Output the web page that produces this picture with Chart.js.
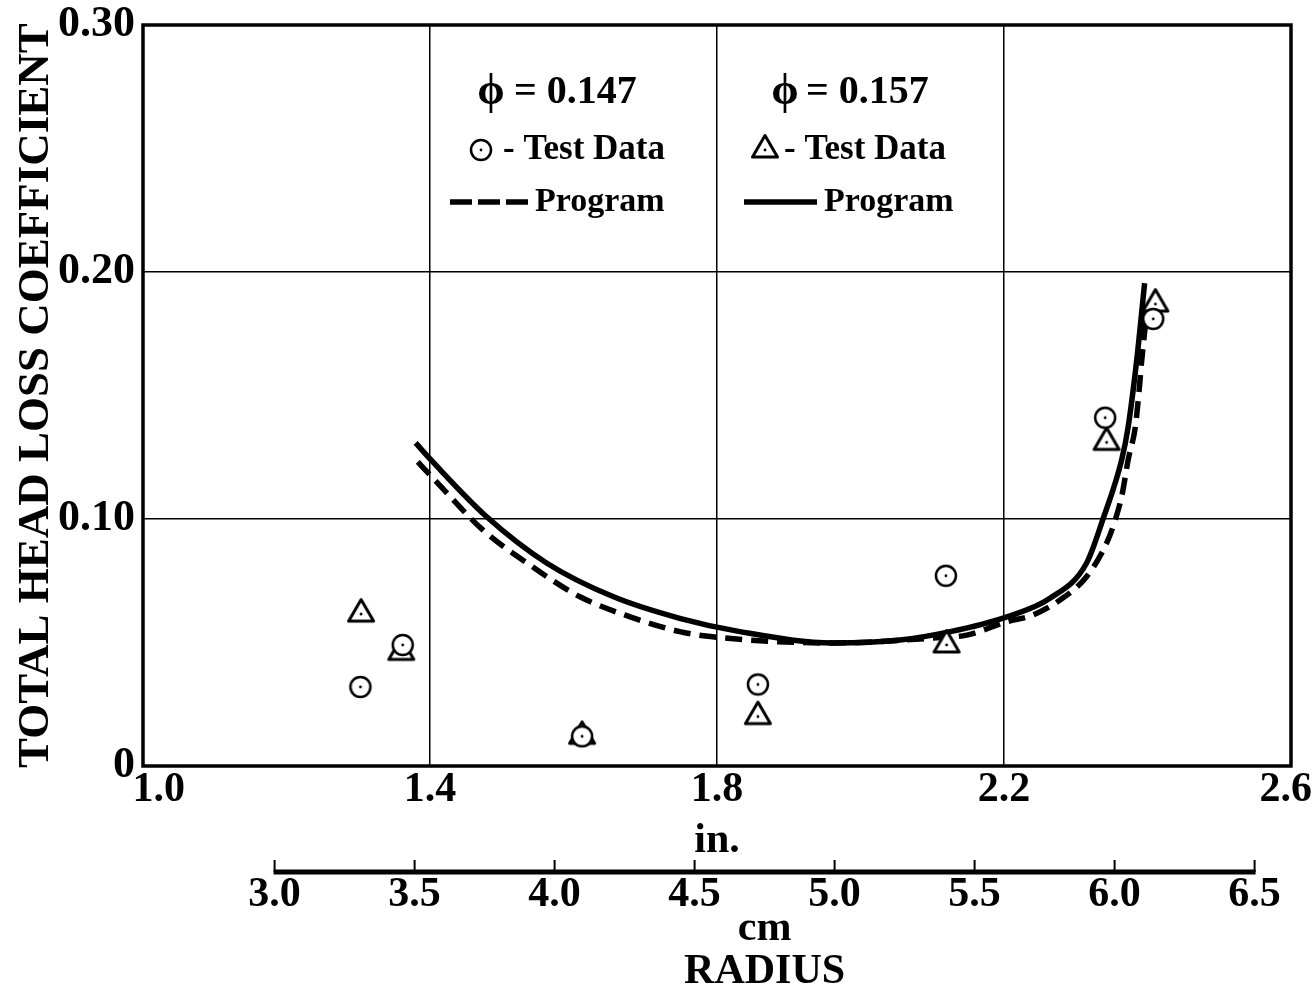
<!DOCTYPE html>
<html>
<head>
<meta charset="utf-8">
<script src="https://cdn.jsdelivr.net/npm/chart.js@4.4.0/dist/chart.umd.min.js"></script>
<style>
  html, body { margin: 0; padding: 0; background: #fff; }
  #wrap { width: 1315px; height: 984px; }
</style>
</head>
<body>
<div id="wrap"><canvas id="chart"></canvas></div>
<script>
// test data (radius in inches)
const circleRadius = [1.303, 1.362, 1.612, 1.857, 2.119, 2.341, 2.408];
const circleLoss = [0.032, 0.049, 0.012, 0.033, 0.077, 0.141, 0.181];
const triangleRadius = [1.304, 1.360, 1.612, 1.857, 2.120, 2.343, 2.411];
const triangleLoss = [0.0615, 0.046, 0.012, 0.020, 0.049, 0.131, 0.187];

// program curve, phi = 0.147 (dashed)
const dashedRadius = [1.383, 1.404, 1.474, 1.539, 1.609, 1.679, 1.748, 1.794, 1.962, 2.101, 2.148, 2.204, 2.240, 2.278, 2.315, 2.343, 2.355, 2.365, 2.373, 2.383, 2.388, 2.392, 2.399];
const dashedLoss = [0.1231, 0.1166, 0.0955, 0.0814, 0.0685, 0.0604, 0.0544, 0.0523, 0.0498, 0.0518, 0.0530, 0.0584, 0.0611, 0.0672, 0.0766, 0.0902, 0.0996, 0.1105, 0.1239, 0.1372, 0.1510, 0.1644, 0.1838];

// program curve, phi = 0.157 (solid)
const solidRadius = [1.380, 1.404, 1.479, 1.563, 1.655, 1.748, 1.832, 1.962, 2.055, 2.125, 2.204, 2.264, 2.315, 2.338, 2.364, 2.373, 2.385, 2.396];
const solidLoss = [0.1308, 0.1231, 0.1009, 0.0821, 0.0686, 0.0598, 0.0544, 0.0498, 0.0510, 0.0544, 0.0604, 0.0679, 0.0821, 0.1000, 0.1239, 0.1372, 0.1644, 0.1955];

// axes
const yTicks = [0, 0.1, 0.2, 0.3];
const yTickLabels = ['0', '0.10', '0.20', '0.30'];
const inchTicks = [1.0, 1.4, 1.8, 2.2, 2.6];
const cmTicks = [3.0, 3.5, 4.0, 4.5, 5.0, 5.5, 6.0, 6.5];

const SERIF = "'Liberation Serif', 'Times New Roman', serif";
Chart.defaults.font.family = SERIF;
Chart.defaults.color = '#000';

const toPoints = (xs, ys) => xs.map((x, i) => ({ x, y: ys[i] }));

// marker images: open circle / open triangle with a centre dot
function makeMarker(kind) {
  const c = document.createElement('canvas');
  c.width = 36;
  c.height = 36;
  const g = c.getContext('2d');
  g.strokeStyle = '#000';
  g.fillStyle = '#fff';
  g.lineJoin = 'round';
  g.beginPath();
  if (kind === 'circle') {
    g.lineWidth = 2.5;
    g.arc(18, 18, 10, 0, Math.PI * 2);
  } else {
    g.lineWidth = 3;
    g.moveTo(18, 3.5);
    g.lineTo(30.5, 25);
    g.lineTo(5.5, 25);
    g.closePath();
  }
  g.fill();
  g.stroke();
  g.fillStyle = '#000';
  g.beginPath();
  g.arc(18, 18, 1.4, 0, Math.PI * 2);
  g.fill();
  return c;
}
const circleImg = makeMarker('circle');
const triangleImg = makeMarker('triangle');

const tickFont = size => ({ family: SERIF, size, weight: 'bold', lineHeight: 1 });

// first/last inch labels sit a little inside the frame, like the original
const inchLabel = (v, i, ticks) => {
  const t = v.toFixed(1);
  if (i === 0) return '   ' + t;
  if (i === ticks.length - 1) return t + ' ';
  return t;
};

// frame, second (cm) axis, captions and the in-plot key
const decorations = {
  id: 'decorations',
  beforeDatasetsDraw(chart) {
    const { ctx, chartArea: a } = chart;
    ctx.save();
    ctx.strokeStyle = '#000';
    ctx.lineWidth = 3.5;
    ctx.strokeRect(a.left, a.top, a.right - a.left, a.bottom - a.top);
    ctx.restore();
  },
  afterDraw(chart) {
    const { ctx, chartArea: a } = chart;
    const s = chart.scales.xcm;
    const y0 = s.top + 10;
    const x0 = s.getPixelForValue(cmTicks[0]);
    const x1 = s.getPixelForValue(cmTicks[cmTicks.length - 1]);
    ctx.save();
    ctx.strokeStyle = '#000';
    ctx.fillStyle = '#000';
    ctx.lineWidth = 5;
    ctx.beginPath();
    ctx.moveTo(x0 - 1, y0);
    ctx.lineTo(x1 + 1, y0);
    ctx.stroke();
    ctx.lineWidth = 2;
    cmTicks.forEach(v => {
      const px = s.getPixelForValue(v);
      ctx.beginPath();
      ctx.moveTo(px, y0);
      ctx.lineTo(px, y0 - 12);
      ctx.stroke();
    });

    const mid = (x0 + x1) / 2;
    ctx.textAlign = 'center';
    ctx.textBaseline = 'alphabetic';
    ctx.font = `bold 42px ${SERIF}`;
    ctx.fillText('cm', mid, s.top + 78);
    ctx.fillText('RADIUS', mid, s.top + 121);

    // key
    const L = a.left, T = a.top;
    ctx.textBaseline = 'middle';
    ctx.textAlign = 'center';
    ctx.font = `bold 44px ${SERIF}`;
    ctx.fillText('\u03D5', L + 348, T + 68);
    ctx.fillText('\u03D5', L + 642, T + 68);
    ctx.textAlign = 'left';
    ctx.font = `bold 40px ${SERIF}`;
    ctx.fillText('= 0.147', L + 371, T + 68);
    ctx.fillText('= 0.157', L + 663, T + 68);

    ctx.drawImage(circleImg, L + 338 - 18, T + 125 - 18);
    ctx.drawImage(triangleImg, L + 622 - 18, T + 125 - 18);
    ctx.font = `bold 35px ${SERIF}`;
    ctx.fillText('- Test Data', L + 360, T + 125);
    ctx.fillText('- Test Data', L + 641, T + 125);

    ctx.lineWidth = 5.5;
    ctx.setLineDash([22, 6]);
    ctx.beginPath();
    ctx.moveTo(L + 307, T + 177);
    ctx.lineTo(L + 387, T + 177);
    ctx.stroke();
    ctx.setLineDash([]);
    ctx.beginPath();
    ctx.moveTo(L + 601, T + 177);
    ctx.lineTo(L + 674, T + 177);
    ctx.stroke();
    ctx.font = `bold 34px ${SERIF}`;
    ctx.fillText('Program', L + 392, T + 177);
    ctx.fillText('Program', L + 681, T + 177);
    ctx.restore();
  }
};

const curveStyle = {
  showLine: true,
  borderColor: '#000',
  borderWidth: 5.5,
  pointRadius: 0,
  fill: false,
  cubicInterpolationMode: 'monotone'
};

new Chart(document.getElementById('chart'), {
  type: 'scatter',
  data: {
    datasets: [
      {
        label: '\u03D5 = 0.147 Test Data',
        data: toPoints(circleRadius, circleLoss),
        pointStyle: circleImg,
        pointRadius: 11
      },
      {
        label: '\u03D5 = 0.157 Test Data',
        data: toPoints(triangleRadius, triangleLoss),
        pointStyle: triangleImg,
        pointRadius: 11
      },
      {
        label: '\u03D5 = 0.147 Program',
        data: toPoints(dashedRadius, dashedLoss),
        borderDash: [17, 9],
        ...curveStyle
      },
      {
        label: '\u03D5 = 0.157 Program',
        data: toPoints(solidRadius, solidLoss),
        ...curveStyle
      }
    ]
  },
  options: {
    responsive: true,
    maintainAspectRatio: false,
    animation: false,
    layout: { padding: { top: 25, right: 24, bottom: 0, left: 0 } },
    plugins: {
      legend: { display: false },
      tooltip: { enabled: false }
    },
    scales: {
      x: {
        type: 'linear',
        position: 'bottom',
        weight: 0,
        min: 1.0,
        max: 2.6,
        afterBuildTicks: s => { s.ticks = inchTicks.map(v => ({ value: v })); },
        afterFit: s => { s.height = 96; s.paddingLeft = 0; s.paddingRight = 0; },
        grid: { color: '#000', lineWidth: 1.5, drawTicks: false },
        border: { display: false },
        ticks: { font: tickFont(42), padding: 3, maxRotation: 0, callback: inchLabel },
        title: { display: true, text: 'in.', font: tickFont(42), padding: { top: 0, bottom: 0 } }
      },
      xcm: {
        type: 'linear',
        position: 'bottom',
        weight: 1,
        min: 2.53,
        max: 6.63,
        afterBuildTicks: s => { s.ticks = cmTicks.map(v => ({ value: v })); },
        afterFit: s => { s.height = 122; s.paddingLeft = 0; s.paddingRight = 0; },
        grid: { display: false, drawTicks: false },
        border: { display: false },
        ticks: { font: tickFont(42), padding: 12, maxRotation: 0, callback: v => v.toFixed(1) }
      },
      y: {
        type: 'linear',
        min: 0,
        max: 0.3,
        afterBuildTicks: s => { s.ticks = yTicks.map(v => ({ value: v })); },
        afterFit: s => { s.width = 143; s.paddingTop = 0; s.paddingBottom = 0; },
        grid: { color: '#000', lineWidth: 1.5, drawTicks: false },
        border: { display: false },
        ticks: { font: tickFont(44), padding: 8, callback: v => yTickLabels[yTicks.indexOf(v)] ?? '' },
        title: {
          display: true,
          text: 'TOTAL HEAD LOSS COEFFICIENT',
          font: tickFont(45),
          padding: { top: 14, bottom: 0 }
        }
      }
    }
  },
  plugins: [decorations]
});
</script>
</body>
</html>
